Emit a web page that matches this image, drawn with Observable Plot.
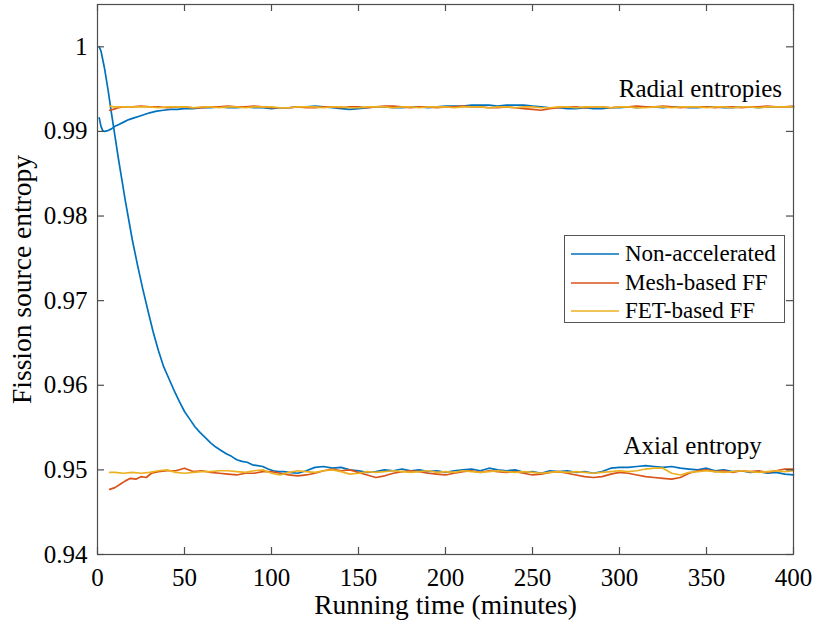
<!DOCTYPE html>
<html>
<head>
<meta charset="utf-8">
<script src="https://cdn.jsdelivr.net/npm/d3@7"></script>
<script src="https://cdn.jsdelivr.net/npm/@observablehq/plot@0.6"></script>
<style>
  body { margin: 0; background: #fff; }
  #wrap { position: relative; width: 814px; height: 625px; font-family: "Liberation Serif", "Times New Roman", serif; }
  #legend { position: absolute; left: 564px; top: 235px; width: 221px; height: 88px; border: 1px solid #555; background: #fff; box-sizing: border-box; }
  .row { position: absolute; left: 0; height: 28px; display: flex; align-items: center; font-size: 23px; color: #000; white-space: nowrap; }
  .row svg { margin-left: 6px; margin-right: 6px; }
</style>
</head>
<body>
<div id="wrap"></div>
<script>
// ---------- tick values ----------
const xTicks = [0, 50, 100, 150, 200, 250, 300, 350, 400];
const yTicks = [0.94, 0.95, 0.96, 0.97, 0.98, 0.99, 1];

// ---------- series names / colours ----------
const seriesNames = ["Non-accelerated", "Mesh-based FF", "FET-based FF"];
const seriesColors = ["#0072BD", "#D95319", "#EDB120"];

// ---------- Non-accelerated (blue) ----------
const nonAccelAxialTime = [1,2,4,6,8,10,12,14,16,18,20,23,26,29,32,35,38,41,44,47,50,53,56,59,62,65,68,71,74,77,80,83,86,89,92,95,98,101,104,107]
  .concat(d3.range(110, 401, 5));
const nonAccelAxial = [
  1.0000,0.9995,0.9975,0.9950,0.9922,0.9895,0.9868,0.9843,0.9818,0.9795,
  0.9772,0.9742,0.9714,0.9688,0.9663,0.9641,0.9622,0.9608,0.9594,0.9581,
  0.9569,0.9560,0.9551,0.9544,0.9538,0.9532,0.9527,0.9523,0.9519,0.9516,
  0.9512,0.9510,0.9509,0.9506,0.9505,0.9504,0.9501,0.9499,0.9498,0.9498,
  // 110 .. 400
  0.9497,0.9496,0.9499,0.9503,0.9504,0.9502,0.9503,0.9500,0.9499,0.9497,
  0.9498,0.9500,0.9499,0.9501,0.9499,0.9500,0.9498,0.9499,0.9497,0.9499,
  0.9500,0.9501,0.9499,0.9502,0.9500,0.9499,0.9500,0.9497,0.9498,0.9496,
  0.9499,0.9498,0.9499,0.9497,0.9498,0.9496,0.9498,0.9502,0.9503,0.9503,
  0.9504,0.9505,0.9504,0.9503,0.9504,0.9502,0.9501,0.9500,0.9502,0.9499,
  0.9500,0.9498,0.9499,0.9497,0.9498,0.9496,0.9497,0.9495,0.9494
];
const nonAccelRadialTime = [1,2,3,4,6,8,10,12,15,18,21,24,27,30,34,38,42,46,50,55]
  .concat(d3.range(60, 401, 5));
const nonAccelRadial = [
  0.9916,0.9906,0.9901,0.9900,0.9901,0.9903,0.9906,0.9908,0.9911,0.9914,
  0.9916,0.9918,0.9920,0.9922,0.9924,0.9925,0.9926,0.9926,0.9927,0.9927,
  // 60 .. 400
  0.9928,0.9928,0.9929,0.9928,0.9928,0.9929,0.9928,0.9928,0.9927,0.9928,
  0.9928,0.9929,0.9929,0.9930,0.9929,0.9928,0.9927,0.9926,0.9927,0.9928,
  0.9929,0.9929,0.9928,0.9928,0.9929,0.9929,0.9928,0.9929,0.9930,0.9930,
  0.9930,0.9931,0.9931,0.9931,0.9930,0.9931,0.9931,0.9931,0.9930,0.9929,
  0.9928,0.9928,0.9927,0.9927,0.9928,0.9927,0.9927,0.9928,0.9928,0.9929,
  0.9928,0.9929,0.9929,0.9928,0.9929,0.9929,0.9928,0.9928,0.9929,0.9929,
  0.9928,0.9928,0.9929,0.9929,0.9928,0.9929,0.9929,0.9929,0.9929
];

// ---------- Mesh-based FF (orange) ----------
const meshAxialTime = [7,10,13,16,19,22,25,28,31].concat(d3.range(35, 401, 5));
const meshAxial = [
  0.9477,0.9479,0.9483,0.9487,0.9490,0.9489,0.9492,0.9491,0.9496,
  // 35 .. 400
  0.9498,0.9499,0.9499,0.9502,0.9498,0.9499,0.9497,0.9496,0.9495,0.9494,
  0.9496,0.9496,0.9498,0.9498,0.9496,0.9494,0.9493,0.9494,0.9496,0.9499,
  0.9501,0.9499,0.9500,0.9497,0.9494,0.9491,0.9493,0.9496,0.9498,0.9499,
  0.9498,0.9496,0.9495,0.9494,0.9496,0.9498,0.9499,0.9497,0.9499,0.9498,
  0.9497,0.9498,0.9496,0.9494,0.9495,0.9497,0.9498,0.9496,0.9494,0.9492,
  0.9491,0.9492,0.9495,0.9497,0.9496,0.9494,0.9492,0.9491,0.9490,0.9489,
  0.9491,0.9496,0.9499,0.9500,0.9498,0.9499,0.9497,0.9499,0.9498,0.9499,
  0.9497,0.9499,0.9501,0.9501
];
const meshRadialTime = [7,9,12,15].concat(d3.range(20, 401, 5));
const meshRadial = [
  0.9925,0.9926,0.9928,0.9929,
  // 20 .. 400
  0.9929,0.9930,0.9929,0.9929,0.9928,0.9929,0.9929,0.9928,0.9928,0.9929,
  0.9929,0.9930,0.9929,0.9929,0.9930,0.9929,0.9928,0.9928,0.9928,0.9929,
  0.9928,0.9928,0.9929,0.9929,0.9928,0.9929,0.9929,0.9928,0.9929,0.9930,
  0.9930,0.9929,0.9928,0.9929,0.9929,0.9928,0.9929,0.9929,0.9930,0.9929,
  0.9929,0.9928,0.9928,0.9929,0.9928,0.9927,0.9926,0.9925,0.9927,0.9928,
  0.9929,0.9929,0.9928,0.9929,0.9929,0.9928,0.9929,0.9929,0.9930,0.9929,
  0.9929,0.9930,0.9929,0.9928,0.9929,0.9929,0.9929,0.9928,0.9929,0.9929,
  0.9928,0.9929,0.9929,0.9930,0.9929,0.9929,0.9930
];

// ---------- FET-based FF (yellow) ----------
const fetAxialTime = [7].concat(d3.range(10, 401, 5));
const fetAxial = [
  0.9497,
  // 10 .. 400
  0.9497,0.9496,0.9497,0.9496,0.9497,0.9499,0.9500,0.9497,0.9496,0.9497,
  0.9498,0.9498,0.9499,0.9499,0.9498,0.9497,0.9499,0.9500,0.9496,0.9494,
  0.9497,0.9499,0.9498,0.9497,0.9499,0.9500,0.9498,0.9495,0.9496,0.9498,
  0.9497,0.9498,0.9499,0.9498,0.9497,0.9498,0.9499,0.9497,0.9498,0.9497,
  0.9499,0.9498,0.9497,0.9498,0.9499,0.9498,0.9497,0.9498,0.9497,0.9496,
  0.9497,0.9498,0.9497,0.9498,0.9497,0.9496,0.9497,0.9498,0.9499,0.9498,
  0.9499,0.9501,0.9502,0.9502,0.9496,0.9494,0.9497,0.9498,0.9499,0.9498,
  0.9497,0.9498,0.9499,0.9498,0.9497,0.9498,0.9499,0.9498,0.9499
];
const fetRadialTime = [7,9,12,15].concat(d3.range(20, 401, 5));
const fetRadial = [
  0.9930,0.9929,0.9929,0.9929,
  // 20 .. 400
  0.9929,0.9929,0.9929,0.9928,0.9929,0.9929,0.9929,0.9928,0.9929,0.9929,
  0.9928,0.9929,0.9929,0.9928,0.9929,0.9929,0.9929,0.9928,0.9928,0.9929,
  0.9929,0.9929,0.9928,0.9929,0.9929,0.9928,0.9928,0.9929,0.9929,0.9929,
  0.9928,0.9929,0.9929,0.9928,0.9929,0.9929,0.9929,0.9928,0.9929,0.9929,
  0.9929,0.9928,0.9929,0.9929,0.9928,0.9929,0.9929,0.9928,0.9928,0.9929,
  0.9929,0.9928,0.9929,0.9929,0.9929,0.9928,0.9929,0.9929,0.9928,0.9928,
  0.9929,0.9929,0.9928,0.9929,0.9929,0.9929,0.9928,0.9929,0.9929,0.9928,
  0.9929,0.9929,0.9928,0.9929,0.9929,0.9929,0.9929
];

// ---------- annotations (data coordinates) ----------
const annotations = [
  {label: "Radial entropies", time: 346.5, entropy: 0.99504},
  {label: "Axial entropy", time: 342, entropy: 0.9528}
];

const xLabel = "Running time (minutes)";
const yLabel = "Fission source entropy";

// ---------- build tidy data ----------
function zip(times, values, series, part) {
  const n = Math.min(times.length, values.length);
  const out = [];
  for (let i = 0; i < n; i++) out.push({time: times[i], entropy: values[i], series, part});
  return out;
}
const data = [
  ...zip(nonAccelRadialTime, nonAccelRadial, seriesNames[0], "radial"),
  ...zip(nonAccelAxialTime, nonAccelAxial, seriesNames[0], "axial"),
  ...zip(meshRadialTime, meshRadial, seriesNames[1], "radial"),
  ...zip(meshAxialTime, meshAxial, seriesNames[1], "axial"),
  ...zip(fetRadialTime, fetRadial, seriesNames[2], "radial"),
  ...zip(fetAxialTime, fetAxial, seriesNames[2], "axial")
];

const W = 814, H = 625;
const mL = 97, mR = 21, mT = 4, mB = 71;
const innerW = W - mL - mR, innerH = H - mT - mB;
const tickLen = 7;
const axisColor = "#4d4d4d";

const chart = Plot.plot({
  width: W,
  height: H,
  marginLeft: mL,
  marginRight: mR,
  marginTop: mT,
  marginBottom: mB,
  style: {fontFamily: "'Liberation Serif', 'Times New Roman', serif", fontSize: "25px", color: "#000", background: "#fff"},
  x: {domain: [0, 400]},
  y: {domain: [0.94, 1.005]},
  color: {domain: seriesNames, range: seriesColors},
  marks: [
    // lines
    Plot.line(data, {x: "time", y: "entropy", z: d => d.series + "|" + d.part, stroke: "series", strokeWidth: 1.7}),
    // frame
    Plot.frame({stroke: axisColor, strokeWidth: 1.2}),
    // inward ticks, bottom & top
    Plot.ruleX(xTicks, {x: d => d, insetTop: innerH - tickLen, stroke: axisColor, strokeWidth: 1.2}),
    Plot.ruleX(xTicks, {x: d => d, insetBottom: innerH - tickLen, stroke: axisColor, strokeWidth: 1.2}),
    // inward ticks, left & right
    Plot.ruleY(yTicks, {y: d => d, insetRight: innerW - tickLen, stroke: axisColor, strokeWidth: 1.2}),
    Plot.ruleY(yTicks, {y: d => d, insetLeft: innerW - tickLen, stroke: axisColor, strokeWidth: 1.2}),
    // tick labels
    Plot.axisX(xTicks, {tickSize: 0, tickPadding: 14, label: null, fontSize: 25, tickFormat: d => String(d)}),
    Plot.axisY(yTicks, {tickSize: 0, tickPadding: 10, label: null, fontSize: 25, tickFormat: d => d === 1 ? "1" : d3.format(".2f")(d)}),
    // axis titles
    Plot.text([xLabel], {frameAnchor: "bottom", lineAnchor: "middle", textAnchor: "middle", dy: 51, fontSize: 27.5, fill: "#000"}),
    Plot.text([yLabel], {frameAnchor: "left", lineAnchor: "middle", textAnchor: "middle", dx: -75, rotate: -90, fontSize: 27.5, fill: "#000"}),
    // annotations
    Plot.text(annotations, {x: "time", y: "entropy", text: "label", fontSize: 25, fill: "#000"})
  ]
});

const wrap = document.getElementById("wrap");
wrap.appendChild(chart);

// legend (HTML overlay, drawn from the named series arrays)
const legend = document.createElement("div");
legend.id = "legend";
const rowTops = [4, 32.5, 60.5];
seriesNames.forEach((name, i) => {
  const row = document.createElement("div");
  row.className = "row";
  row.style.top = rowTops[i] + "px";
  row.innerHTML = `<svg width="48" height="4"><line x1="0" y1="2" x2="48" y2="2" stroke="${seriesColors[i]}" stroke-width="1.7"/></svg><span>${name}</span>`;
  legend.appendChild(row);
});
wrap.appendChild(legend);
</script>
</body>
</html>
